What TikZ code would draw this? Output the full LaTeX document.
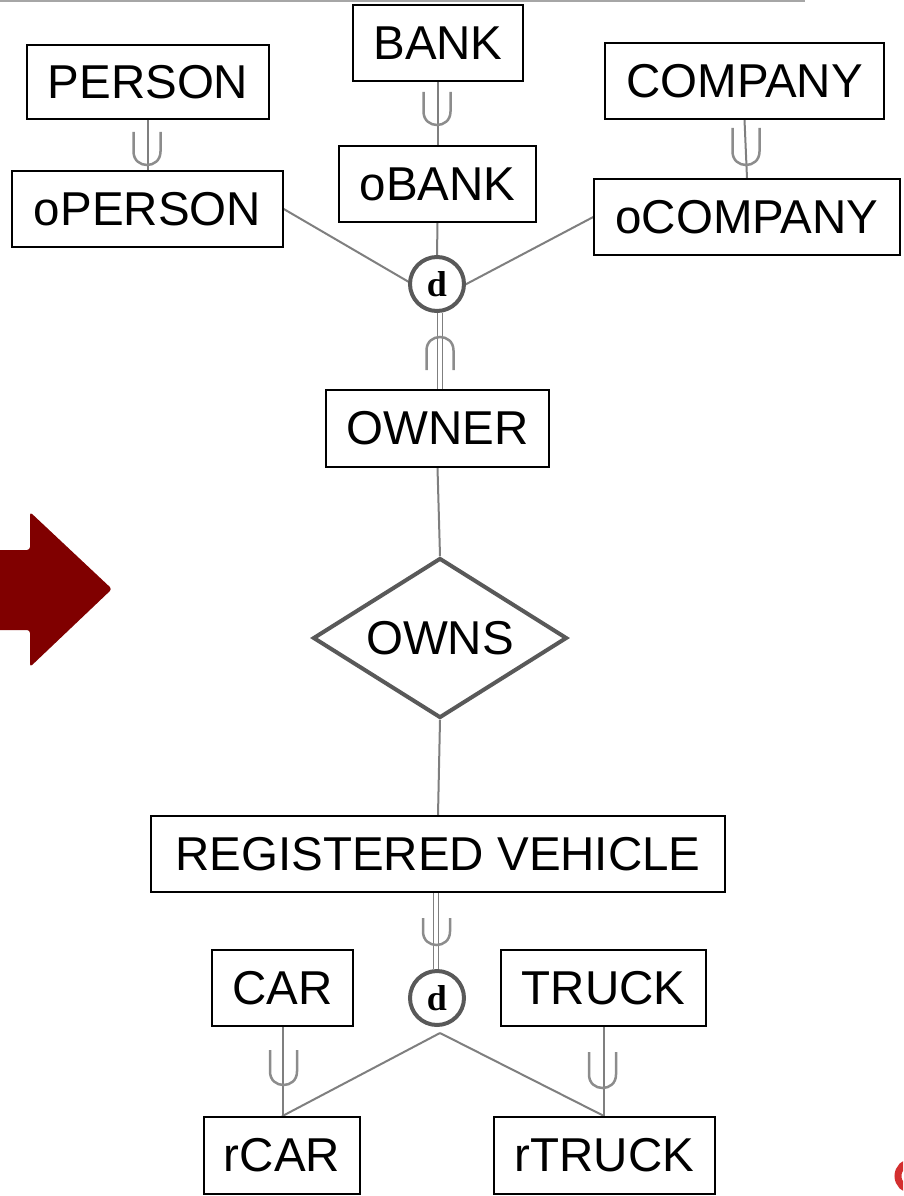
\documentclass[tikz,border=0pt]{standalone}
\usepackage{fontspec}
\setmainfont{Liberation Sans}
\newfontfamily\dfont{Liberation Serif}
\usetikzlibrary{shapes.geometric,backgrounds}
\definecolor{connc}{HTML}{7F7F7F}
\definecolor{subc}{HTML}{8C8C8C}
\definecolor{ringc}{HTML}{595959}
\definecolor{arrowred}{HTML}{800000}
\definecolor{markred}{HTML}{D32F2F}
\definecolor{topline}{HTML}{A6A6A6}
\newcommand{\subup}[3]{%
  \draw[subset] (#1-13.5,#2) -- (#1-13.5,#3-13.5) .. controls (#1-13.5,#3+4.5) and (#1+13.5,#3+4.5) .. (#1+13.5,#3-13.5) -- (#1+13.5,#2);}
\newcommand{\subdown}[3]{%
  \draw[subset] (#1-13.5,#3) -- (#1-13.5,#2+13.5) .. controls (#1-13.5,#2-4.5) and (#1+13.5,#2-4.5) .. (#1+13.5,#2+13.5) -- (#1+13.5,#3);}
\begin{document}
\begin{tikzpicture}[x=1pt,y=-1pt,
  ent/.style={draw=black, line width=1.5pt, fill=white, inner sep=0pt,
    font=\fontsize{47.5}{57}\selectfont},
  disj/.style={circle, draw=ringc, line width=4pt, fill=white, minimum size=54pt,
    inner sep=0pt, font=\dfont\bfseries\fontsize{36}{42}\selectfont},
  connl/.style={draw=connc, line width=2pt},
  dbl/.style={draw=connc, line width=1.6pt, double=white, double distance=3.4pt},
  subset/.style={draw=subc, line width=2.5pt}
]
\clip (0,0) rectangle (903,1196);

% top rule
\draw[topline, line width=2pt] (0,1) -- (805,1);

% red arrow
\fill[arrowred, rounded corners=3pt] (-10,550) -- (30,550) -- (30,512) -- (112,589)
  -- (30,667) -- (30,630) -- (-10,630) -- cycle;

% red mark bottom right
\draw[markred, line width=7pt] (912,1176) circle[radius=14];

% entities
\node[ent, minimum width=242pt, minimum height=74pt] (person) at (148,82) {PERSON};
\node[ent, minimum width=271pt, minimum height=76pt] (operson) at (147.5,209) {oPERSON};
\node[ent, minimum width=170pt, minimum height=76pt] (bank) at (438,43) {BANK};
\node[ent, minimum width=197pt, minimum height=76pt] (obank) at (437.5,184) {oBANK};
\node[ent, minimum width=279pt, minimum height=76pt] (company) at (744.5,81) {COMPANY};
\node[ent, minimum width=306pt, minimum height=76pt] (ocompany) at (747,217) {oCOMPANY};
\node[disj] (d1) at (437,284) {d};
\node[ent, minimum width=223pt, minimum height=77pt] (owner) at (437.5,428.5) {OWNER};
\node[diamond, aspect=1.5875, draw=ringc, line width=4pt, fill=white, minimum width=254pt,
  minimum height=160pt, inner sep=0pt, font=\fontsize{47.5}{57}\selectfont] (owns) at (440,638) {OWNS};
\node[ent, minimum width=574pt, minimum height=76pt] (rv) at (438,854) {REGISTERED VEHICLE};
\node[disj] (d2) at (437,998) {d};
\node[ent, minimum width=141pt, minimum height=76pt] (car) at (282.5,988) {CAR};
\node[ent, minimum width=205pt, minimum height=76pt] (truck) at (603.5,988) {TRUCK};
\node[ent, minimum width=156pt, minimum height=77pt] (rcar) at (282,1155.5) {rCAR};
\node[ent, minimum width=221pt, minimum height=77pt] (rtruck) at (604.5,1155.5) {rTRUCK};

\coordinate (j1) at (438,299);
\coordinate (j2) at (440,1033);

\begin{pgfonlayer}{background}
  \draw[connl] (person.south) -- (person.south |- operson.north);
  \draw[connl] (bank.south) -- (bank.south |- obank.north);
  \draw[connl] (company.south) -- (ocompany.north);
  \draw[connl] (operson.east) -- (j1);
  \draw[connl] (ocompany.west) -- (j1);
  \draw[connl] (obank.south) -- (d1.north);
  \draw[dbl] ([xshift=3pt]d1.south) -- ([xshift=3pt]d1.south |- owner.north);
  \draw[connl] (owner.south) -- (owns.north);
  \draw[connl] (owns.south) -- (rv.north);
  \draw[dbl] ([xshift=-2pt]rv.south) -- ([xshift=-2pt]rv.south |- d2.north);
  \draw[connl] (j2) -- (rcar.north);
  \draw[connl] (j2) -- (rtruck.north);
  \draw[connl] (car.south) -- (car.south |- rcar.north);
  \draw[connl] (truck.south) -- (truck.south |- rtruck.north);
  % subset marks
  \subup{147}{132}{165}
  \subup{437}{92}{125}
  \subup{746}{128}{165}
  \subdown{440}{337}{370}
  \subup{436.5}{918}{945}
  \subup{283.5}{1050}{1085}
  \subup{602.5}{1052}{1088}
\end{pgfonlayer}
\end{tikzpicture}
\end{document}
